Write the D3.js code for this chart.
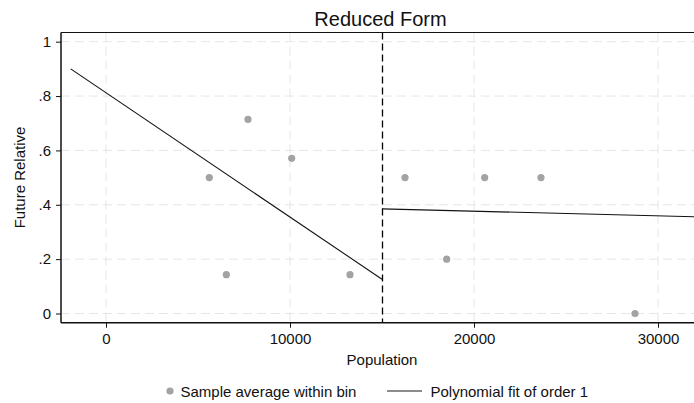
<!DOCTYPE html>
<html lang="en">
<head>
    <meta charset="UTF-8">
    <title>Reduced Form</title>
    <script src="https://d3js.org/d3.v7.min.js"></script>
    <style>
        body{
            margin: 0;
            background-color: white;
        }
        svg{
            display: block;
            font-family: "Liberation Sans", Arial, Helvetica, sans-serif;
        }
        .grid line{
            stroke: #e6e6e6;
            stroke-width: 1;
            stroke-dasharray: 9,5;
        }
    </style>
</head>
<body>
<svg></svg>
<script>
    const width = 694;
    const height = 403;

    /* binned sample averages */
    const binX = [5614, 6540, 7717, 10092, 13260, 16250, 18516, 20580, 23640, 28750];
    const binY = [0.5, 0.143, 0.714, 0.571, 0.143, 0.5, 0.2, 0.5, 0.5, 0];

    /* linear fits either side of the cutoff */
    const cutoff = 15000;
    const fitLeftX = [-1918, 15000];
    const fitLeftY = [0.900, 0.126];
    const fitRightX = [15000, 32400];
    const fitRightY = [0.385, 0.355];

    const xTicks = [0, 10000, 20000, 30000];
    const yTicks = [0, 0.2, 0.4, 0.6, 0.8, 1];
    const yTickLabels = ['0', '.2', '.4', '.6', '.8', '1'];

    const plot = {left: 61, right: 694, top: 32.5, bottom: 322.7};

    const svg = d3.select('svg')
        .attr('width', width)
        .attr('height', height);

    const x = d3.scaleLinear().domain([0, 30000]).range([106, 658]);
    const y = d3.scaleLinear().domain([0, 1]).range([313.5, 41.7]);

    /* grid lines */
    svg.append('g').attr('class', 'grid')
        .selectAll('line').data(yTicks).join('line')
        .attr('x1', plot.left).attr('x2', plot.right)
        .attr('y1', d => y(d)).attr('y2', d => y(d));
    svg.append('g').attr('class', 'grid')
        .selectAll('line').data(xTicks).join('line')
        .attr('x1', d => x(d)).attr('x2', d => x(d))
        .attr('y1', plot.top).attr('y2', plot.bottom);

    /* cutoff */
    svg.append('line')
        .attr('x1', x(cutoff) + 0.5).attr('x2', x(cutoff) + 0.5)
        .attr('y1', plot.top).attr('y2', plot.bottom)
        .attr('stroke', '#000')
        .attr('stroke-width', 1.3)
        .attr('stroke-dasharray', '7,4');

    /* fitted lines */
    svg.append('clipPath').attr('id', 'plotClip')
        .append('rect')
        .attr('x', plot.left).attr('y', plot.top)
        .attr('width', plot.right - plot.left).attr('height', plot.bottom - plot.top);

    const line = d3.line().x(d => x(d[0])).y(d => y(d[1]));
    [[fitLeftX, fitLeftY], [fitRightX, fitRightY]].forEach(function(f){
        svg.append('path')
            .attr('clip-path', 'url(#plotClip)')
            .attr('d', line(d3.zip(f[0], f[1])))
            .attr('fill', 'none')
            .attr('stroke', '#111')
            .attr('stroke-width', 1.1);
    });

    /* bin dots */
    svg.append('g')
        .selectAll('circle').data(d3.zip(binX, binY)).join('circle')
        .attr('cx', d => x(d[0]))
        .attr('cy', d => y(d[1]))
        .attr('r', 3.6)
        .attr('fill', '#a3a3a3');

    /* axes */
    const xAxis = svg.append('g')
        .attr('transform', `translate(0,${plot.bottom})`)
        .call(d3.axisBottom(x).tickValues(xTicks).tickFormat(d3.format('d')).tickSize(5).tickPadding(6).tickSizeOuter(0));
    const yAxis = svg.append('g')
        .attr('transform', `translate(${plot.left},0)`)
        .call(d3.axisLeft(y).tickValues(yTicks).tickFormat((d, i) => yTickLabels[i]).tickSize(5).tickPadding(5).tickSizeOuter(0));
    [xAxis, yAxis].forEach(function(a){
        a.select('.domain').remove();
        a.selectAll('text').attr('font-size', 15).attr('fill', '#111').attr('font-family', null);
        a.selectAll('.tick line').attr('stroke', '#111');
    });

    /* frame lines */
    svg.append('line')
        .attr('x1', plot.left).attr('x2', plot.right)
        .attr('y1', plot.bottom).attr('y2', plot.bottom)
        .attr('stroke', '#111').attr('stroke-width', 1.5);
    svg.append('line')
        .attr('x1', plot.left).attr('x2', plot.left)
        .attr('y1', plot.top).attr('y2', plot.bottom)
        .attr('stroke', '#111').attr('stroke-width', 1.5);
    svg.append('line')
        .attr('x1', plot.left).attr('x2', plot.right)
        .attr('y1', plot.top).attr('y2', plot.top)
        .attr('stroke', '#111').attr('stroke-width', 1.2);

    /* titles */
    svg.append('text')
        .attr('x', 380.5).attr('y', 26)
        .attr('text-anchor', 'middle')
        .attr('font-size', 20)
        .attr('fill', '#111')
        .text('Reduced Form');
    svg.append('text')
        .attr('x', 382).attr('y', 364.5)
        .attr('text-anchor', 'middle')
        .attr('font-size', 15)
        .attr('fill', '#111')
        .text('Population');
    svg.append('text')
        .attr('transform', 'translate(25,177.5) rotate(-90)')
        .attr('text-anchor', 'middle')
        .attr('font-size', 15)
        .attr('fill', '#111')
        .text('Future Relative');

    /* legend */
    const legend = svg.append('g');
    legend.append('circle')
        .attr('cx', 170).attr('cy', 391)
        .attr('r', 3.6).attr('fill', '#a3a3a3');
    legend.append('text')
        .attr('x', 180.5).attr('y', 397)
        .attr('font-size', 15).attr('fill', '#111')
        .text('Sample average within bin');
    legend.append('line')
        .attr('x1', 387).attr('x2', 422)
        .attr('y1', 391).attr('y2', 391)
        .attr('stroke', '#1a1a1a').attr('stroke-width', 1);
    legend.append('text')
        .attr('x', 430.5).attr('y', 397)
        .attr('font-size', 15).attr('fill', '#111')
        .text('Polynomial fit of order 1');
</script>
</body>
</html>
